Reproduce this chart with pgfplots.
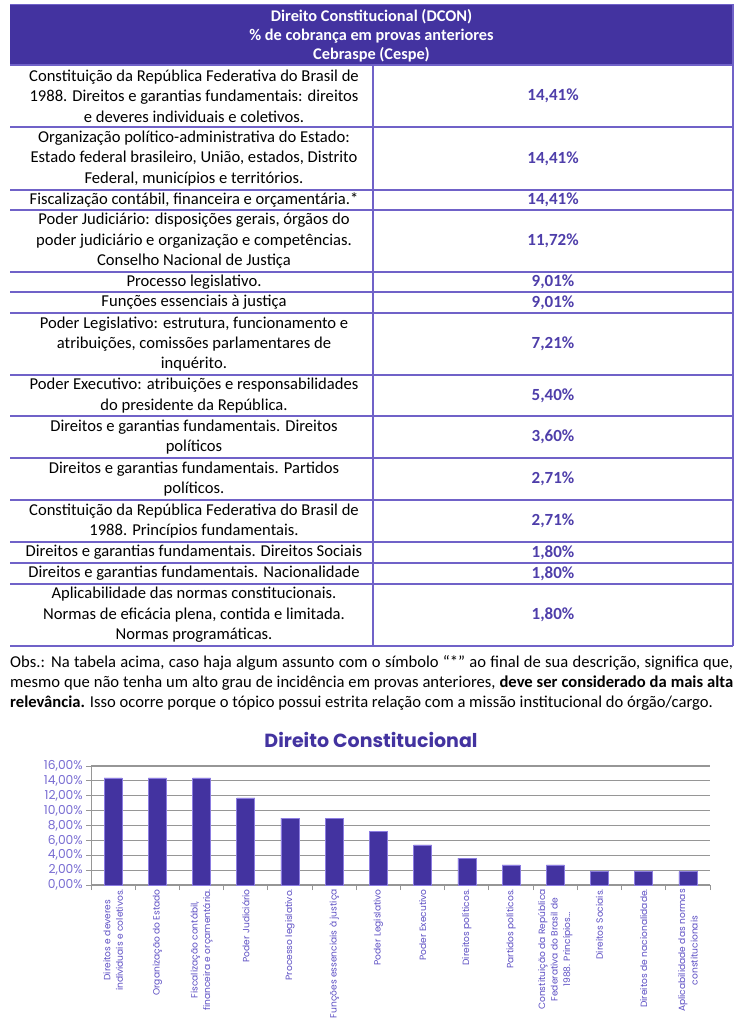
\documentclass[border=0pt]{standalone}
\usepackage{fontspec}
\setmainfont{Carlito}
\newfontfamily\gothic{Poppins}
\usepackage{pgfplots}
\pgfplotsset{compat=1.18}
\definecolor{hdr}{RGB}{67,51,160}
\definecolor{tline}{RGB}{112,98,200}
\definecolor{pct}{RGB}{78,62,170}
\definecolor{gridc}{RGB}{150,150,150}
\definecolor{yl}{RGB}{120,108,210}
\definecolor{xl}{RGB}{92,78,195}
\definecolor{barline}{RGB}{140,125,225}
\newcommand\body{\fontsize{16.6}{20.4}\selectfont}
\newcommand\trow[3]{%
  \node[font=\body, align=center, inner sep=0pt] at (194pt,-#1pt) {#2};%
  \node[font=\fontsize{17}{20}\selectfont\bfseries, text=pct, inner sep=0pt] at (553pt,-#1pt) {#3};}
\begin{document}
\begin{tikzpicture}
\path[use as bounding box] (0pt,0pt) rectangle (743pt,-1024pt);
% header
\fill[hdr] (10pt,-4pt) rectangle (733pt,-65pt);
\draw[tline, line width=0.8pt] (10pt,-4pt) -- (733pt,-4pt);
\node[text=white, font=\fontsize{16.3}{19}\selectfont\bfseries, align=center, inner sep=0pt] at (371.5pt,-36pt)
  {Direito Constitucional (DCON)\\\% de cobrança em provas anteriores\\Cebraspe (Cespe)};
% grid lines of the table
\foreach \y in {65,127,190,210,272,292,313,375,416,458,500,542,563,584,646}
  \draw[tline, line width=1.2pt] (10pt,-\y pt) -- (733pt,-\y pt);
\draw[tline, line width=1.2pt] (373pt,-65pt) -- (373pt,-646pt);
\draw[tline, line width=1.2pt] (733pt,-4pt) -- (733pt,-646pt);
% rows
\trow{96}{Constituição da República Federativa do Brasil de\\1988. Direitos e garantias fundamentais: direitos\\e deveres individuais e coletivos.}{14,41\%}
\trow{158.5}{Organização político-administrativa do Estado:\\Estado federal brasileiro, União, estados, Distrito\\Federal, municípios e territórios.}{14,41\%}
\trow{200}{Fiscalização contábil, financeira e orçamentária.*}{14,41\%}
\trow{241}{Poder Judiciário: disposições gerais, órgãos do\\poder judiciário e organização e competências.\\Conselho Nacional de Justiça}{11,72\%}
\trow{282}{Processo legislativo.}{9,01\%}
\trow{302.5}{Funções essenciais à justiça}{9,01\%}
\trow{344}{Poder Legislativo: estrutura, funcionamento e\\atribuições, comissões parlamentares de\\inquérito.}{7,21\%}
\trow{395.5}{Poder Executivo: atribuições e responsabilidades\\do presidente da República.}{5,40\%}
\trow{437}{Direitos e garantias fundamentais. Direitos\\políticos}{3,60\%}
\trow{479}{Direitos e garantias fundamentais. Partidos\\políticos.}{2,71\%}
\trow{521}{Constituição da República Federativa do Brasil de\\1988. Princípios fundamentais.}{2,71\%}
\trow{552.5}{Direitos e garantias fundamentais. Direitos Sociais}{1,80\%}
\trow{573.5}{Direitos e garantias fundamentais. Nacionalidade}{1,80\%}
\trow{615}{Aplicabilidade das normas constitucionais.\\Normas de eficácia plena, contida e limitada.\\Normas programáticas.}{1,80\%}
% observation
\node[anchor=north west, inner sep=0pt, text width=723pt, align=justify, font=\body] at (10pt,-655pt)
  {Obs.: Na tabela acima, caso haja algum assunto com o símbolo “*” ao final de sua descrição, significa que,\linebreak
   mesmo que não tenha um alto grau de incidência em provas anteriores, \textbf{deve ser considerado da mais alta}\linebreak
   \textbf{relevância.} Isso ocorre porque o tópico possui estrita relação com a missão institucional do órgão/cargo.};
% chart title
\node[font=\gothic\bfseries\fontsize{19}{22}\selectfont, text=hdr] at (371pt,-740pt) {Direito Constitucional};
\begin{axis}[
  at={(91pt,-885pt)}, anchor=south west,
  scale only axis, width=619pt, height=119pt,
  xmin=-0.5, xmax=13.5, ymin=0, ymax=16,
  axis x line*=bottom, axis y line*=left,
  axis line style={draw=gridc, line width=1pt},
  ytick={0,2,...,16},
  ymajorgrids, major grid style={draw=gridc, line width=1.2pt},
  tick align=outside, major tick length=5pt,
  tick style={draw=gridc, line width=1pt},
  /pgf/number format/assume math mode=true,
  yticklabel={\pgfmathprintnumber[fixed,fixed zerofill,precision=2,use comma]{\tick}\%},
  yticklabel style={font=\gothic\fontsize{12.3}{13}\selectfont, text=yl, inner sep=3pt},
  xtick={-0.5,0.5,...,13.5}, xticklabels={},
  extra x ticks={0,1,2,3,4,5,6,7,8,9,10,11,12,13},
  extra x tick labels={{Direitos e deveres\\individuais e coletivos.},{Organização do Estado},{Fiscalização contábil,\\financeira e orçamentária.},{Poder Judiciário},{Processo legislativo.},{Funções essenciais à justiça},{Poder Legislativo},{Poder Executivo},{Direitos políticos.},{Partidos políticos.},{Constituição da República\\Federativa do Brasil de\\1988. Princípios\ldots},{Direitos Sociais.},{Direitos de nacionalidade.},{Aplicabilidade das normas\\constitucionais}},
  extra x tick style={major tick length=0pt, tick style={draw=none},
    xticklabel style={rotate=90, anchor=east, align=center, font=\gothic\fontsize{9.1}{12.5}\selectfont, text=xl, inner sep=4pt}},
  ybar, bar width=18pt,
]
\addplot[fill=hdr, draw=barline, line width=0.6pt] coordinates {
  (0,14.41) (1,14.41) (2,14.41) (3,11.72) (4,9.01) (5,9.01) (6,7.21)
  (7,5.40) (8,3.60) (9,2.71) (10,2.71) (11,1.80) (12,1.80) (13,1.80)};
\end{axis}
\end{tikzpicture}
\end{document}
